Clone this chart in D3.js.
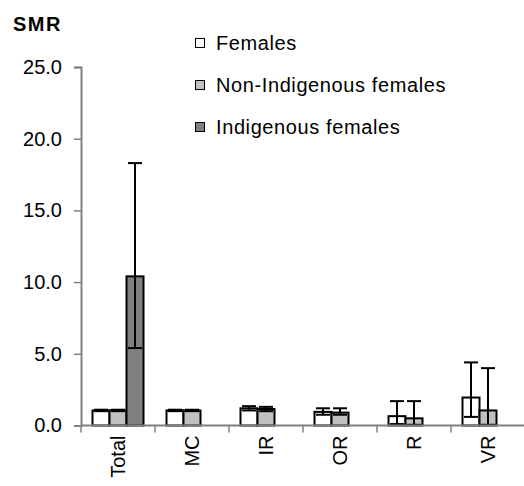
<!DOCTYPE html>
<html>
<head>
<meta charset="utf-8">
<script src="https://cdn.jsdelivr.net/npm/d3@7"></script>
<style>
  html, body { margin: 0; padding: 0; background: #fff; }
  text { font-family: "Liberation Sans", Arial, sans-serif; }
</style>
</head>
<body>
<svg id="chart" width="524" height="486"></svg>
<script>
const categories = ["Total", "MC", "IR", "OR", "R", "VR"];
const seriesNames = ["Females", "Non-Indigenous females", "Indigenous females"];
const females     = [1.05, 1.05, 1.20, 0.95, 0.65, 1.95];
const femalesLow  = [1.00, 1.00, 1.05, 0.75, 0.10, 0.60];
const femalesHigh = [1.10, 1.10, 1.35, 1.20, 1.70, 4.40];
const nonIndig     = [1.05, 1.05, 1.15, 0.90, 0.50, 1.05];
const nonIndigLow  = [1.00, 1.00, 1.00, 0.75, 0.05, 0.05];
const nonIndigHigh = [1.10, 1.10, 1.30, 1.20, 1.70, 4.00];
const indig     = [10.4, null, null, null, null, null];
const indigLow  = [5.4, null, null, null, null, null];
const indigHigh = [18.3, null, null, null, null, null];
const yTicks = [0, 5, 10, 15, 20, 25];

const fills = ["#ffffff", "#c0c0c0", "#808080"];
const values = [females, nonIndig, indig];
const lows = [femalesLow, nonIndigLow, indigLow];
const highs = [femalesHigh, nonIndigHigh, indigHigh];

const svg = d3.select("#chart");
const x0 = 81, x1 = 525;
const y = d3.scaleLinear().domain([0, 25]).range([425.5, 67]);
const x = d3.scaleBand().domain(categories).range([x0, x1]).paddingInner(0).paddingOuter(0);
const xs = d3.scaleBand().domain(d3.range(3)).range([11.5, x.bandwidth() - 11.5]).padding(0);

// Y axis
const yAxis = d3.axisLeft(y).tickValues(yTicks).tickFormat(d3.format(".1f")).tickSize(7).tickPadding(12);
const gy = svg.append("g").attr("transform", `translate(${x0},0)`).call(yAxis);
gy.select(".domain").attr("stroke", "#808080").attr("stroke-width", 2);
gy.selectAll(".tick line").attr("stroke", "#808080").attr("stroke-width", 1.5);
gy.selectAll(".tick text").attr("font-size", 20).attr("fill", "#000")
  .attr("font-family", "'Liberation Sans', Arial, sans-serif");

// Bars
const rows = [];
categories.forEach((c, i) => {
  for (let s = 0; s < 3; s++) {
    if (values[s][i] != null) rows.push({c, s, v: values[s][i], lo: lows[s][i], hi: highs[s][i]});
  }
});

svg.append("g").selectAll("rect").data(rows).join("rect")
  .attr("x", d => x(d.c) + xs(d.s))
  .attr("y", d => y(d.v))
  .attr("width", xs.bandwidth())
  .attr("height", d => y(0) - y(d.v))
  .attr("fill", d => fills[d.s])
  .attr("stroke", "#000")
  .attr("stroke-width", 2);

// Error bars
const capW = 14;
const eg = svg.append("g").attr("stroke", "#000").attr("stroke-width", 2);
rows.forEach(d => {
  const cx = x(d.c) + xs(d.s) + xs.bandwidth() / 2;
  eg.append("line").attr("x1", cx).attr("x2", cx).attr("y1", y(d.lo)).attr("y2", y(d.hi));
  eg.append("line").attr("x1", cx - capW/2).attr("x2", cx + capW/2).attr("y1", y(d.lo)).attr("y2", y(d.lo));
  eg.append("line").attr("x1", cx - capW/2).attr("x2", cx + capW/2).attr("y1", y(d.hi)).attr("y2", y(d.hi));
});

// X axis
const gx = svg.append("g").attr("transform", `translate(0,${y(0)})`);
gx.append("line").attr("x1", x0).attr("x2", x1).attr("y1", 0).attr("y2", 0)
  .attr("stroke", "#808080").attr("stroke-width", 2);
const bounds = categories.map(c => x(c)).concat([x1]);
gx.selectAll("line.tk").data(bounds).join("line").attr("class", "tk")
  .attr("x1", d => d).attr("x2", d => d).attr("y1", 0).attr("y2", 7)
  .attr("stroke", "#808080").attr("stroke-width", 1.5);
gx.selectAll("text").data(categories).join("text")
  .attr("transform", d => `translate(${x(d) + x.bandwidth()/2 + 7},10) rotate(-90)`)
  .attr("text-anchor", "end")
  .attr("font-size", 20)
  .text(d => d);

// Y label
svg.append("text").attr("x", 13).attr("y", 31).attr("font-size", 20).attr("font-weight", "bold")
  .attr("letter-spacing", 1.5).text("SMR");

// Legend
const legY = [43, 85, 127];
const lg = svg.append("g");
seriesNames.forEach((n, i) => {
  lg.append("rect").attr("x", 195.5).attr("y", legY[i] - 4.5).attr("width", 9).attr("height", 9)
    .attr("fill", fills[i]).attr("stroke", "#000").attr("stroke-width", 1);
  lg.append("text").attr("x", 216).attr("y", legY[i] + 7).attr("font-size", 20)
    .attr("letter-spacing", 0.6).text(n);
});
</script>
</body>
</html>
